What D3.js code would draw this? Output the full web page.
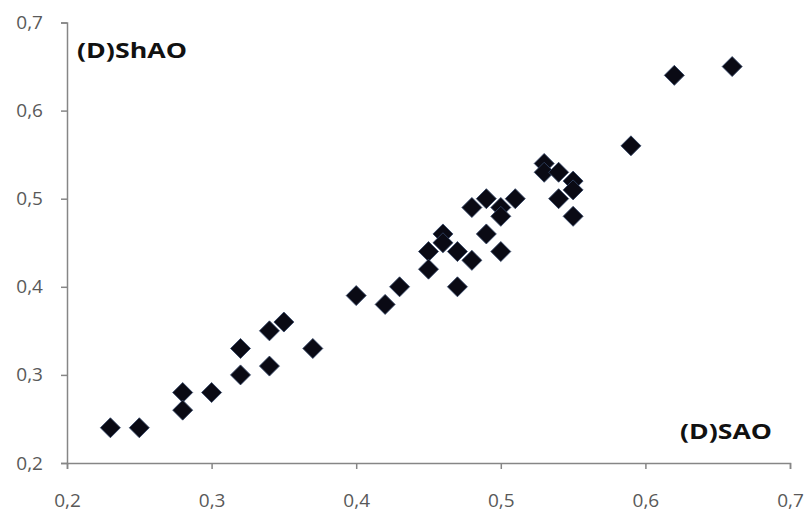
<!DOCTYPE html>
<html><head><meta charset="utf-8">
<script src="https://cdn.jsdelivr.net/npm/d3@7"></script>
<style>body{margin:0;background:#fff}</style></head>
<body><svg id="c" width="808" height="514"></svg>
<script>
const xValues = [0.23,0.25,0.28,0.28,0.30,0.32,0.32,0.34,0.34,0.35,0.37,0.40,0.42,0.43,0.45,0.45,0.46,0.46,0.47,0.47,0.48,0.48,0.49,0.49,0.50,0.50,0.50,0.51,0.53,0.53,0.54,0.54,0.55,0.55,0.55,0.59,0.62,0.66];
const yValues = [0.24,0.24,0.28,0.26,0.28,0.33,0.30,0.35,0.31,0.36,0.33,0.39,0.38,0.40,0.44,0.42,0.46,0.45,0.44,0.40,0.49,0.43,0.50,0.46,0.49,0.48,0.44,0.50,0.54,0.53,0.53,0.50,0.52,0.51,0.48,0.56,0.64,0.65];
const xTicks = [0.2,0.3,0.4,0.5,0.6,0.7];
const yTicks = [0.2,0.3,0.4,0.5,0.6,0.7];
const yTitle = "(D)ShAO";
const xTitle = "(D)SAO";

const svg = d3.select("#c");
const x = d3.scaleLinear().domain([0.2,0.7]).range([67,790]);
const y = d3.scaleLinear().domain([0.2,0.7]).range([463,22.5]);
const fmt = d => d3.format(".1f")(d).replace(".", ",");
const font = "'Open Sans', sans-serif";

const xa = svg.append("g").attr("transform","translate(0,"+y(0.2)+")")
  .call(d3.axisBottom(x).tickValues(xTicks).tickFormat(fmt).tickSize(6).tickPadding(25));
const ya = svg.append("g").attr("transform","translate("+x(0.2)+",0)")
  .call(d3.axisLeft(y).tickValues(yTicks).tickFormat(fmt).tickSize(6).tickPadding(18));
[xa,ya].forEach(a=>{
  a.selectAll("path").attr("stroke","#868686").attr("stroke-width",1.5);
  a.selectAll("line").attr("stroke","#868686").attr("stroke-width",1.5);
  a.selectAll("text").attr("fill","#595959").style("font-family",font).style("font-size","19px");
});

const pts = xValues.map((v,i)=>({x:v,y:yValues[i]}));
svg.append("g").selectAll("path").data(pts).join("path")
  .attr("d", d3.symbol().type(d3.symbolSquare).size(200))
  .attr("transform", d=>"translate("+x(d.x)+","+y(d.y)+") rotate(45)")
  .attr("fill","#0a0a14").attr("stroke","#334466").attr("stroke-width",0.8);

svg.append("text").attr("x",77).attr("y",58).text(yTitle)
  .attr("fill","#111").style("font-family",font).style("font-weight","bold").style("font-size","22px")
  .attr("textLength",110).attr("lengthAdjust","spacingAndGlyphs");
svg.append("text").attr("x",680).attr("y",439).text(xTitle)
  .attr("fill","#111").style("font-family",font).style("font-weight","bold").style("font-size","22px")
  .attr("textLength",92).attr("lengthAdjust","spacingAndGlyphs");
</script></body></html>
